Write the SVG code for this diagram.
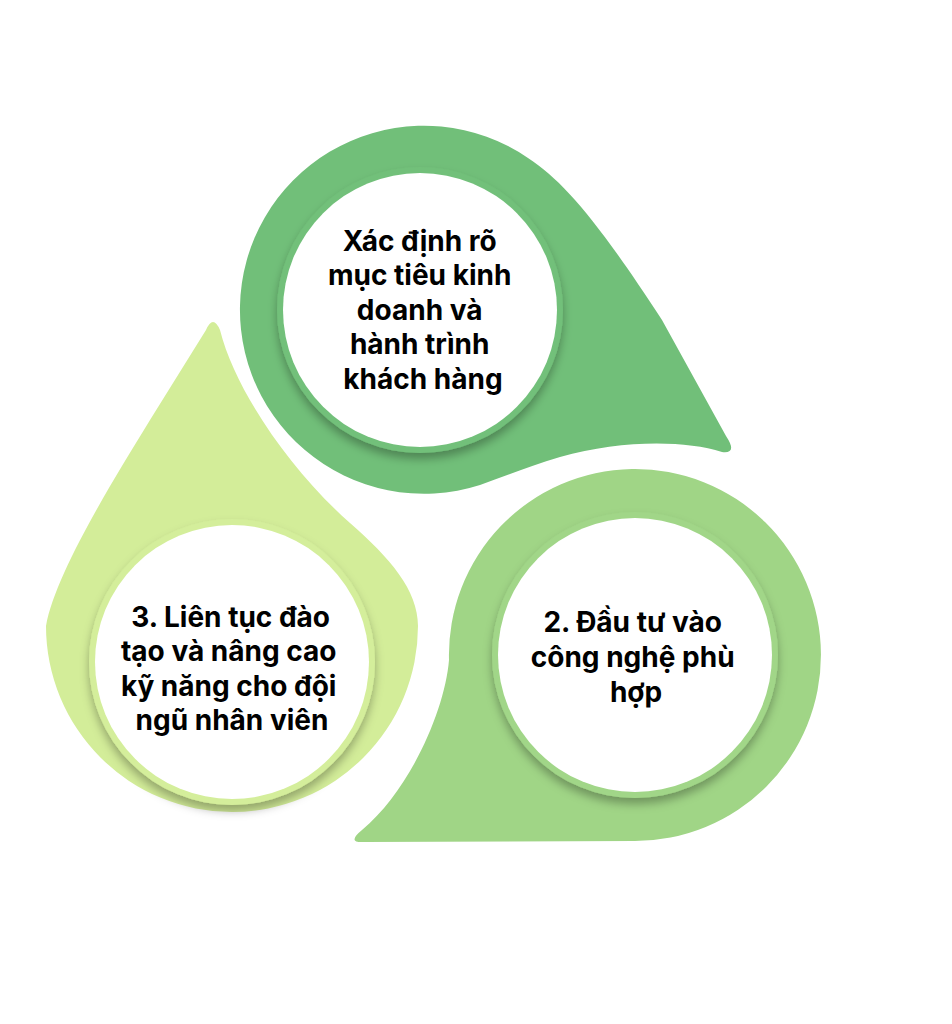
<svg xmlns="http://www.w3.org/2000/svg" width="952" height="1024" viewBox="0 0 952 1024">
  <defs>
    <filter id="sh" x="-20%" y="-20%" width="140%" height="140%">
      <feDropShadow dx="0" dy="6" stdDeviation="5" flood-color="#000" flood-opacity="0.3"/>
    </filter>
  </defs>
  <style>
    .lbl { font-family: Inter, "Noto Sans", "DejaVu Sans", sans-serif; font-weight: 700; font-size: 28px; fill: #000; text-anchor: middle; }
    .inner { fill: #ffffff; }
  </style>
  <rect width="952" height="1024" fill="#ffffff"/>

  <g id="node-1">
    <path d="M 722 452 C 684 440, 620 440, 560 457 C 530 466, 505 476, 480 485 A 184 184 0 1 1 528 158 C 565 182, 600 225, 662 320 L 726 436 Q 738 454, 722 452 Z" fill="#71bf79"/>
    <circle cx="420" cy="310" r="143" fill="#72c07a" filter="url(#sh)"/>
    <circle class="inner" cx="420" cy="310" r="137"/>
    <text class="lbl">
      <tspan x="423" y="250.5">Xác định rõ</tspan>
      <tspan x="423" y="285">mục tiêu kinh</tspan>
      <tspan x="423" y="319.5">doanh và</tspan>
      <tspan x="423" y="354">hành trình</tspan>
      <tspan x="423" y="388.5">khách hàng</tspan>
    </text>
  </g>

  <g id="node-2">
    <path d="M 449 660 C 445 710, 410 790, 362 830 Q 346 843, 364 842 L 634 841 A 186 186 0 1 0 449 660 Z" fill="#a0d586"/>
    <circle cx="635" cy="655" r="143" fill="#a1d688" filter="url(#sh)"/>
    <circle class="inner" cx="635" cy="655" r="137"/>
    <text class="lbl">
      <tspan x="636" y="632">2. Đầu tư vào</tspan>
      <tspan x="636" y="667">công nghệ phù</tspan>
      <tspan x="636" y="701.5">hợp</tspan>
    </text>
  </g>

  <g id="node-3">
    <path d="M 206 330 Q 213 314, 220 330 C 235 390, 290 470, 350 523 C 390 558, 418 590, 418 626 A 186 186 0 0 1 232 812 A 186 186 0 0 1 46 626 C 55 575, 110 485, 150 420 L 206 330 Z" fill="#d3ed99"/>
    <circle cx="232" cy="662" r="143" fill="#d4ee9b" filter="url(#sh)"/>
    <circle class="inner" cx="232" cy="662" r="137"/>
    <text class="lbl">
      <tspan x="234" y="627">3. Liên tục đào</tspan>
      <tspan x="232" y="661">tạo và nâng cao</tspan>
      <tspan x="232" y="695.5">kỹ năng cho đội</tspan>
      <tspan x="232" y="730">ngũ nhân viên</tspan>
    </text>
  </g>

  <g id="connectors"></g>
</svg>
